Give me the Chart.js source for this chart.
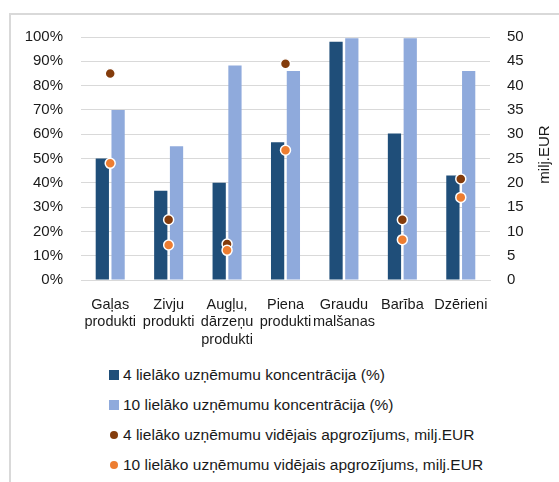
<!DOCTYPE html>
<html>
<head>
<meta charset="utf-8">
<script src="https://cdn.jsdelivr.net/npm/chart.js@4/dist/chart.umd.min.js"></script>
<style>
  body { margin: 0; background: #fff; font-family: "Liberation Sans", Arial, sans-serif; }
  #frame { position: absolute; left: 9px; top: 13px; width: 560px; height: 480px;
           border-left: 2px solid #d9d9d9; border-top: 2px solid #d9d9d9; }
  #wrap { position: absolute; left: 10px; top: 10px; width: 549px; height: 344px; }
  #legend { position: absolute; left: 109px; top: 363px; font-size: 15.5px; color: #1a1a1a; }
  #legend div { height: 30px; line-height: 24px; white-space: nowrap; }
  #legend span.m { display: inline-block; vertical-align: middle; margin-right: 4px; position: relative; top: -1px; }
</style>
</head>
<body>
<div id="frame"></div>
<div id="wrap"><canvas id="chart"></canvas></div>
<div id="legend"></div>

<script>
// nozares
var categories = [
  ['Gaļas', 'produkti'],
  ['Zivju', 'produkti'],
  ['Augļu,', 'dārzeņu', 'produkti'],
  ['Piena', 'produkti'],
  ['Graudu', 'malšanas'],
  'Barība',
  'Dzērieni'
];

// koncentrācija, %
var top4Share = [50, 36.7, 40, 56.7, 98, 60.3, 43];
var top10Share = [70, 55, 88.3, 86, 99.5, 99.5, 86];

// vidējais apgrozījums, milj.EUR
var top4Turnover = [42.5, 12.4, 7.4, 44.5, null, 12.4, 20.8];
var top10Turnover = [24, 7.2, 6.1, 26.7, null, 8.3, 17];

var pctTicks = [0, 10, 20, 30, 40, 50, 60, 70, 80, 90, 100];
var eurTicks = [0, 5, 10, 15, 20, 25, 30, 35, 40, 45, 50];

var seriesNames = [
  '4 lielāko uzņēmumu koncentrācija (%)',
  '10 lielāko uzņēmumu koncentrācija (%)',
  '4 lielāko uzņēmumu vidējais apgrozījums, milj.EUR',
  '10 lielāko uzņēmumu vidējais apgrozījums, milj.EUR'
];
var colors = ['#1f4e79', '#8faadc', '#843c0c', '#ed7d31'];

var font = { family: '"Liberation Sans", Arial, sans-serif', size: 15 };

// ass nosaukums labajā pusē (lasāms no apakšas uz augšu)
var axisTitle = {
  id: 'axisTitle',
  afterDraw: function(chart) {
    var ctx = chart.ctx;
    var area = chart.chartArea;
    ctx.save();
    ctx.translate(535, (area.top + area.bottom) / 2 - 4);
    ctx.rotate(-Math.PI / 2);
    ctx.font = '15px "Liberation Sans", Arial, sans-serif';
    ctx.fillStyle = '#1a1a1a';
    ctx.textAlign = 'center';
    ctx.textBaseline = 'middle';
    ctx.fillText('milj.EUR', 0, 0);
    ctx.restore();
  }
};

var ctx = document.getElementById('chart');
new Chart(ctx, {
  type: 'bar',
  data: {
    labels: categories,
    datasets: [
      { label: seriesNames[0], data: top4Share, backgroundColor: colors[0], yAxisID: 'y', order: 3,
        categoryPercentage: 0.54, barPercentage: 0.84 },
      { label: seriesNames[1], data: top10Share, backgroundColor: colors[1], yAxisID: 'y', order: 3,
        categoryPercentage: 0.54, barPercentage: 0.84 },
      { type: 'line', label: seriesNames[2], data: top4Turnover, yAxisID: 'y1', order: 2,
        showLine: false, pointRadius: 5, pointBackgroundColor: colors[2],
        pointBorderColor: '#fff', pointBorderWidth: 1.5, pointHoverRadius: 5 },
      { type: 'line', label: seriesNames[3], data: top10Turnover, yAxisID: 'y1', order: 1,
        showLine: false, pointRadius: 5, pointBackgroundColor: colors[3],
        pointBorderColor: '#fff', pointBorderWidth: 1.5, pointHoverRadius: 5 }
    ]
  },
  options: {
    responsive: true,
    maintainAspectRatio: false,
    animation: false,
    layout: { padding: { top: 18, left: 0, right: 0, bottom: 0 } },
    plugins: { legend: { display: false }, tooltip: { enabled: false } },
    scales: {
      x: {
        grid: { display: false },
        border: { color: '#d9d9d9' },
        ticks: { color: '#1a1a1a', font: { family: font.family, size: 14.5 }, padding: 8, maxRotation: 0, autoSkip: false },
        afterFit: function(scale) { scale.height = 74; }
      },
      y: {
        position: 'left',
        min: 0, max: 100,
        afterBuildTicks: function(scale) { scale.ticks = pctTicks.map(function(v) { return { value: v }; }); },
        grid: { color: '#d9d9d9', drawTicks: false },
        border: { display: false },
        ticks: { color: '#1a1a1a', font: font, padding: 18, callback: function(v) { return v + '%'; } },
        afterFit: function(scale) { scale.width = 71; }
      },
      y1: {
        position: 'right',
        min: 0, max: 50,
        afterBuildTicks: function(scale) { scale.ticks = eurTicks.map(function(v) { return { value: v }; }); },
        grid: { display: false, drawTicks: false },
        border: { display: false },
        ticks: { color: '#1a1a1a', font: font, padding: 17 },
        afterFit: function(scale) { scale.width = 69; }
      }
    }
  },
  plugins: [axisTitle]
});

// leģenda zem diagrammas
var legend = document.getElementById('legend');
seriesNames.forEach(function(name, i) {
  var row = document.createElement('div');
  var m = document.createElement('span');
  m.className = 'm';
  if (i < 2) {
    m.style.width = '10px'; m.style.height = '10px';
  } else {
    m.style.width = '8px'; m.style.height = '8px'; m.style.borderRadius = '50%';
    m.style.marginLeft = '1px'; m.style.marginRight = '5px';
  }
  m.style.background = colors[i];
  row.appendChild(m);
  row.appendChild(document.createTextNode(name));
  legend.appendChild(row);
});
</script>
</body>
</html>
